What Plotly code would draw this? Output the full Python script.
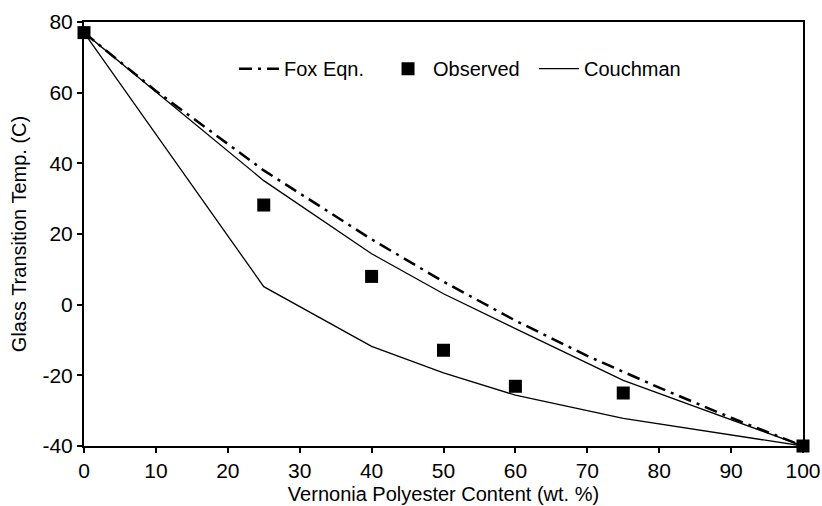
import plotly.graph_objects as go

# Data
fox_x = [0, 10, 20, 25, 30, 40, 50, 60, 70, 75, 80, 90, 100]
fox_y = [77, 60.5, 45.5, 38, 31.5, 18.5, 6.5, -4.5, -14.5, -19, -23.5, -32, -40]

obs_x = [0, 25, 40, 50, 60, 75, 100]
obs_y = [77, 28.2, 8.0, -12.9, -23.1, -25, -40]

couch_upper_x = [0, 25, 40, 50, 60, 75, 100]
couch_upper_y = [77, 35.1, 14.4, 3.1, -6.8, -21.4, -40]

couch_lower_x = [0, 25, 40, 50, 60, 75, 100]
couch_lower_y = [77, 5.1, -11.8, -19.3, -25.6, -32.2, -40]

x_ticks = [0, 10, 20, 30, 40, 50, 60, 70, 80, 90, 100]
y_ticks = [-40, -20, 0, 20, 40, 60, 80]

FONT = "Liberation Sans, Arial, sans-serif"

fig = go.Figure()
fig.add_trace(go.Scatter(
    x=fox_x, y=fox_y, mode="lines", name="Fox Eqn.", legend="legend",
    line=dict(color="black", width=2.5, dash="13px,6px,3px,6px"),
    cliponaxis=False,
))
fig.add_trace(go.Scatter(
    x=obs_x, y=obs_y, mode="markers", name="Observed", legend="legend2",
    marker=dict(symbol="square", size=13, color="black"),
    cliponaxis=False,
))
fig.add_trace(go.Scatter(
    x=couch_upper_x, y=couch_upper_y, mode="lines", name="Couchman", legend="legend3",
    line=dict(color="black", width=1.3),
    cliponaxis=False,
))
fig.add_trace(go.Scatter(
    x=couch_lower_x, y=couch_lower_y, mode="lines", name="Couchman",
    line=dict(color="black", width=1.3), showlegend=False,
    cliponaxis=False,
))

leg_common = dict(
    orientation="h", yanchor="middle", y=0.89, xanchor="left",
    bgcolor="rgba(0,0,0,0)", font=dict(size=20, family=FONT), itemwidth=40,
)

fig.update_layout(
    width=822, height=506,
    margin=dict(l=84, r=19, t=22, b=60, autoexpand=False),
    paper_bgcolor="white", plot_bgcolor="white",
    font=dict(family=FONT, color="black", size=20),
    showlegend=True,
    legend=dict(x=0.2086, **leg_common),
    legend2=dict(x=0.4159, **leg_common),
    legend3=dict(x=0.6258, **leg_common),
    xaxis=dict(
        range=[0, 100], tickvals=x_ticks, ticktext=[str(v) for v in x_ticks],
        showgrid=False, zeroline=False, automargin=False,
        showline=True, linecolor="black", linewidth=2, mirror=True,
        ticks="outside", ticklen=5, tickwidth=1.5, tickcolor="black",
        tickfont=dict(size=21, family=FONT),
        title=dict(text="Vernonia Polyester Content (wt. %)", font=dict(size=20, family=FONT), standoff=6),
    ),
    yaxis=dict(
        range=[-40, 80], tickvals=y_ticks, ticktext=[str(v) for v in y_ticks],
        showgrid=False, zeroline=False, automargin=False,
        showline=True, linecolor="black", linewidth=2, mirror=True,
        ticks="outside", ticklen=5, tickwidth=1.5, tickcolor="black",
        tickfont=dict(size=21, family=FONT),
        title=dict(text="Glass Transition Temp. (C)", font=dict(size=20, family=FONT), standoff=10),
    ),
)

fig.write_html("out.html")
